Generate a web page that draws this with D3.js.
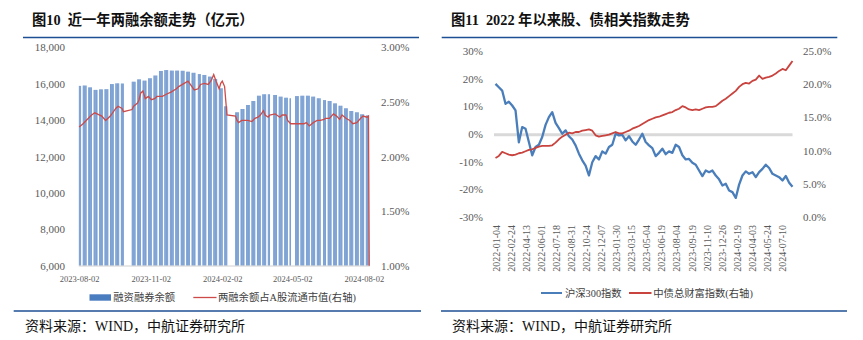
<!DOCTYPE html>
<html><head><meta charset="utf-8">
<script src="https://cdn.jsdelivr.net/npm/d3@7"></script>
<style>body{margin:0;background:#fff}svg{display:block}text{white-space:pre}</style>
</head><body>
<svg id="c" width="863" height="340"></svg>
<script>
// ---------------- Figure 10 data ----------------
const fig10Title = "图10  近一年两融余额走势（亿元）";
const fig10YTicks = [6000, 8000, 10000, 12000, 14000, 16000, 18000];
const fig10Y2Ticks = [1.0, 1.5, 2.0, 2.5, 3.0];
const fig10XTicks = ["2023-08-02", "2023-11-02", "2024-02-02", "2024-05-02", "2024-08-02"];
const fig10Legend = ["融资融券余额", "两融余额占A股流通市值(右轴)"];
const tradingFirstDay = "2023-08-02";
const tradingLastDay = "2024-08-08";
const marketHolidays = ["2023-09-29","2023-10-02","2023-10-03","2023-10-04","2023-10-05","2023-10-06",
  "2024-01-01","2024-02-09","2024-02-12","2024-02-13","2024-02-14","2024-02-15","2024-02-16",
  "2024-04-04","2024-04-05","2024-05-01","2024-05-02","2024-05-03","2024-06-10"];
// weekly margin balance (亿元), weeks starting Monday 2023-07-31
const marginWeekStart = "2023-07-31";
const marginWeekly = [15880,15900,15800,15660,15690,15700,15980,16020,16010,null,
  16110,16240,16170,16300,16450,16700,16750,16720,16720,16710,16660,16600,16530,16480,16390,16260,
  15750,14760,null,14430,14610,14830,15050,15340,15420,15420,15380,15290,15230,15200,15320,15340,
  15340,15290,15200,15100,15050,14920,14790,14650,14500,14430,14320,14260];
// ratio of margin balance to A-share float market cap (%)
const ratioDates = ["2023-08-02","2023-08-07","2023-08-11","2023-08-18","2023-08-22","2023-08-25","2023-08-31",
  "2023-09-05","2023-09-11","2023-09-18","2023-09-21","2023-09-26","2023-09-28",
  "2023-10-09","2023-10-11","2023-10-16","2023-10-18","2023-10-20","2023-10-23","2023-10-26","2023-10-30",
  "2023-11-03","2023-11-07","2023-11-10","2023-11-17","2023-11-22","2023-11-28",
  "2023-12-05","2023-12-08","2023-12-15","2023-12-20","2023-12-22","2023-12-28",
  "2024-01-02","2024-01-05","2024-01-10","2024-01-15","2024-01-19","2024-01-22","2024-01-25","2024-01-29","2024-01-31",
  "2024-02-02","2024-02-05","2024-02-08","2024-02-19","2024-02-21","2024-02-23","2024-02-27",
  "2024-03-01","2024-03-06","2024-03-11","2024-03-15","2024-03-19","2024-03-22","2024-03-26","2024-03-28",
  "2024-04-01","2024-04-03","2024-04-10","2024-04-12","2024-04-16","2024-04-19","2024-04-24","2024-04-26","2024-04-30",
  "2024-05-06","2024-05-09","2024-05-14","2024-05-17","2024-05-20","2024-05-24","2024-05-29",
  "2024-06-03","2024-06-07","2024-06-12","2024-06-14","2024-06-19","2024-06-24","2024-06-28",
  "2024-07-02","2024-07-05","2024-07-10","2024-07-15","2024-07-19","2024-07-24","2024-07-29",
  "2024-08-01","2024-08-06","2024-08-08","2024-08-09"];
const ratioValues = [2.27,2.30,2.33,2.38,2.40,2.39,2.37,
  2.33,2.37,2.44,2.46,2.44,2.41,
  2.43,2.46,2.49,2.52,2.58,2.60,2.53,2.55,
  2.52,2.53,2.55,2.55,2.57,2.59,
  2.62,2.64,2.67,2.69,2.67,2.61,
  2.62,2.66,2.67,2.66,2.70,2.75,2.69,2.62,2.67,
  2.69,2.64,2.38,2.37,2.33,2.31,2.33,
  2.33,2.33,2.32,2.35,2.36,2.38,2.42,2.38,
  2.36,2.38,2.39,2.38,2.36,2.38,2.38,2.33,2.30,
  2.30,2.30,2.30,2.30,2.31,2.28,2.31,
  2.33,2.33,2.34,2.35,2.35,2.39,2.37,
  2.34,2.38,2.35,2.33,2.30,2.31,2.35,
  2.37,2.36,2.37,1.00];

// ---------------- Figure 11 data ----------------
const fig11Title = "图11  2022 年以来股、债相关指数走势";
const fig11XLabels = ["2022-01-04","2022-02-24","2022-04-13","2022-06-01","2022-07-18","2022-08-31",
  "2022-10-24","2022-12-07","2023-01-30","2023-03-15","2023-05-04","2023-06-19","2023-08-04",
  "2023-09-19","2023-11-10","2023-12-26","2024-02-19","2024-04-03","2024-05-24","2024-07-10"];
const fig11LabelStep = 33;       // trading days between labels
const fig11TradingDays = 650;    // trading days covered by the series
const fig11YTicks = [-30, -20, -10, 0, 10, 20, 30];
const fig11Y2Ticks = [0, 5, 10, 15, 20, 25];
const fig11Legend = ["沪深300指数", "中债总财富指数(右轴)"];
// cumulative change (%), sampled evenly over the period
const hs300 = [18.1,16.9,15.7,10.9,11.7,10.3,8.5,-3.0,2.5,1.9,
  -2.9,-7.7,-4.7,-3.9,-1.1,3.3,6.1,7.9,4.0,2.1,
  0.1,1.3,-0.8,-2.0,-4.1,-7.1,-9.5,-11.4,-15.0,-10.2,
  -8.0,-9.2,-6.3,-7.1,-4.7,-3.9,0.1,-0.5,-0.3,-2.3,
  -0.8,-2.7,-3.9,-2.0,0.1,-2.9,-4.1,-5.1,-8.0,-6.8,
  -5.3,-7.3,-6.3,-6.8,-3.9,-4.7,-7.7,-9.2,-9.0,-10.4,
  -11.1,-13.2,-15.2,-13.2,-13.8,-13.2,-15.0,-16.4,-18.6,-18.0,
  -20.4,-21.0,-23.1,-18.3,-15.0,-13.5,-14.4,-13.8,-15.6,-13.8,
  -12.6,-11.1,-12.3,-14.4,-15.0,-15.6,-16.8,-15.2,-17.6,-19.1];
const chinaBondWealth = [8.9,9.2,9.8,9.6,9.4,9.3,9.4,9.6,9.7,9.9,
  10.1,10.2,10.4,10.6,10.7,10.7,10.7,10.8,11.2,11.7,
  12.1,12.4,12.7,12.6,12.8,12.8,13.0,13.1,13.2,13.0,
  12.3,12.1,12.2,12.3,12.4,12.6,12.8,12.6,12.6,12.8,
  13.0,13.3,13.5,13.7,14.0,14.3,14.6,14.8,15.0,15.1,
  15.3,15.5,15.7,15.8,16.1,16.3,16.7,16.5,16.2,16.1,
  16.2,16.1,16.3,16.5,16.6,16.6,16.7,17.1,17.5,17.8,
  18.2,18.6,19.0,19.6,20.0,20.2,20.1,20.5,20.7,21.3,
  20.8,21.0,21.1,21.3,21.6,22.0,22.3,22.1,22.8,23.5];
const sourceNote = "资料来源：WIND，中航证券研究所";

// ---------------- drawing ----------------
const svg = d3.select("#c");
const SERIF = "'Liberation Serif','Noto Sans CJK SC',serif";
const CJK = "'Liberation Serif','Noto Sans CJK SC',sans-serif";
const NAVY = "#1c4f94";
const AXTXT = "#595959";
const parse = d3.timeParse("%Y-%m-%d");
const fmtDay = d3.timeFormat("%Y-%m-%d");

function styleAxis(g, size) {
  g.select(".domain").remove();
  g.attr("font-family", SERIF).attr("font-size", size);
  g.selectAll("text").attr("fill", AXTXT);
}

// frame rules & titles
[[23, 419, 37.5], [441.7, 837.3, 37.5], [13.7, 421, 311], [441, 847, 311]].forEach(r => {
  svg.append("line").attr("x1", r[0]).attr("x2", r[1]).attr("y1", r[2]).attr("y2", r[2])
    .attr("stroke", NAVY).attr("stroke-width", 1.4);
});
[[fig10Title, 32], [fig11Title, 451]].forEach(t => {
  svg.append("text").attr("x", t[1]).attr("y", 20).attr("dominant-baseline", "central")
    .attr("font-family", CJK).attr("font-weight", "bold").attr("font-size", 14.3)
    .attr("fill", "#111").text(t[0]);
});
[25, 452].forEach(x => {
  svg.append("text").attr("x", x).attr("y", 326).attr("dominant-baseline", "central")
    .attr("font-family", CJK).attr("font-size", 14).attr("fill", "#111").text(sourceNote);
});

// ===== Figure 10 =====
const xL = d3.scaleTime().domain([parse(fig10XTicks[0]), parse(fig10XTicks[fig10XTicks.length - 1])]).range([79.2, 363.8]);
const yL = d3.scaleLinear().domain([fig10YTicks[0], fig10YTicks[fig10YTicks.length - 1]]).range([265.7, 47.3]);
const yR = d3.scaleLinear().domain([fig10Y2Ticks[0], fig10Y2Ticks[fig10Y2Ticks.length - 1]]).range([265.7, 47.3]);

const holidaySet = new Set(marketHolidays);
const wk0 = parse(marginWeekStart);
const tradingDays = d3.timeDay.range(parse(tradingFirstDay), d3.timeDay.offset(parse(tradingLastDay), 1))
  .filter(d => d.getDay() !== 0 && d.getDay() !== 6 && !holidaySet.has(fmtDay(d)));
const bars = tradingDays.map(d => ({ d, v: marginWeekly[Math.floor(d3.timeDay.count(wk0, d) / 7)] }))
  .filter(b => b.v != null);

svg.append("g").selectAll("rect").data(bars).join("rect")
  .attr("x", b => xL(b.d) - 0.31).attr("width", 0.62)
  .attr("y", b => yL(b.v)).attr("height", b => yL(fig10YTicks[0]) - yL(b.v))
  .attr("fill", "#4579c0");

svg.append("line").attr("x1", 78.8).attr("x2", 370).attr("y1", 266).attr("y2", 266)
  .attr("stroke", "#d0d0d0").attr("stroke-width", 1);

const ratio = ratioDates.map((s, i) => ({ d: parse(s), v: ratioValues[i] }));
svg.append("path").datum(ratio)
  .attr("d", d3.line().x(p => xL(p.d)).y(p => yR(p.v)))
  .attr("fill", "none").attr("stroke", "#cc4b48").attr("stroke-width", 1.3);

svg.append("g").attr("transform", "translate(65,0)")
  .call(d3.axisLeft(yL).tickValues(fig10YTicks).tickFormat(d3.format(",")).tickSize(0).tickPadding(0))
  .call(g => styleAxis(g, 11));
svg.append("g").attr("transform", "translate(381,0)")
  .call(d3.axisRight(yR).tickValues(fig10Y2Ticks).tickFormat(v => d3.format(".2f")(v) + "%").tickSize(0).tickPadding(0))
  .call(g => styleAxis(g, 11));
svg.append("g").attr("transform", "translate(0,266)")
  .call(d3.axisBottom(xL).tickValues(fig10XTicks.map(parse)).tickFormat(fmtDay).tickSize(0).tickPadding(10))
  .call(g => styleAxis(g, 8.5));

// legend fig10
svg.append("rect").attr("x", 89.5).attr("y", 294.3).attr("width", 21.5).attr("height", 6.4).attr("fill", "#4a7cc0");
svg.append("text").attr("x", 113.3).attr("y", 297.5).attr("dominant-baseline", "central")
  .attr("font-family", CJK).attr("font-size", 10.3).attr("fill", "#404040").text(fig10Legend[0]);
svg.append("line").attr("x1", 193.3).attr("x2", 216.5).attr("y1", 297.5).attr("y2", 297.5)
  .attr("stroke", "#cc4b48").attr("stroke-width", 1.3);
svg.append("text").attr("x", 218).attr("y", 297.5).attr("dominant-baseline", "central")
  .attr("font-family", CJK).attr("font-size", 10.3).attr("fill", "#404040").text(fig10Legend[1]);

// ===== Figure 11 =====
const xI = d3.scaleLinear().domain([0, fig11TradingDays]).range([495.5, 792.5]);
const yA = d3.scaleLinear().domain([fig11YTicks[0], fig11YTicks[fig11YTicks.length - 1]]).range([217, 51]);
const yB = d3.scaleLinear().domain([fig11Y2Ticks[0], fig11Y2Ticks[fig11Y2Ticks.length - 1]]).range([217, 51]);

svg.append("line").attr("x1", xI(0) - 1.5).attr("x2", xI(fig11TradingDays)).attr("y1", yA(0) + 0.8).attr("y2", yA(0) + 0.8)
  .attr("stroke", "#d9d9d9").attr("stroke-width", 3);

const lineA = d3.line().x((v, i, arr) => xI(i * fig11TradingDays / (arr.length - 1))).y(v => yA(v));
const lineB = d3.line().x((v, i, arr) => xI(i * fig11TradingDays / (arr.length - 1))).y(v => yB(v));
svg.append("path").datum(hs300).attr("d", lineA).attr("fill", "none")
  .attr("stroke", "#4a7ebb").attr("stroke-width", 2.3).attr("stroke-linejoin", "round");
svg.append("path").datum(chinaBondWealth).attr("d", lineB).attr("fill", "none")
  .attr("stroke", "#c9433f").attr("stroke-width", 1.8).attr("stroke-linejoin", "round");

svg.append("g").attr("transform", "translate(483,0)")
  .call(d3.axisLeft(yA).tickValues(fig11YTicks).tickFormat(v => v + "%").tickSize(0).tickPadding(0))
  .call(g => styleAxis(g, 11));
svg.append("g").attr("transform", "translate(803,0)")
  .call(d3.axisRight(yB).tickValues(fig11Y2Ticks).tickFormat(v => d3.format(".1f")(v) + "%").tickSize(0).tickPadding(0))
  .call(g => styleAxis(g, 11));
svg.append("g").attr("transform", "translate(0,225)")
  .call(d3.axisBottom(xI).tickValues(fig11XLabels.map((s, i) => i * fig11LabelStep))
    .tickFormat(v => fig11XLabels[Math.round(v / fig11LabelStep)]).tickSize(0))
  .call(g => {
    styleAxis(g, 10);
    g.selectAll("text").attr("x", 0).attr("y", 0).attr("dy", "0.35em")
      .attr("transform", "rotate(-90)").attr("text-anchor", "end");
  });

// legend fig11
svg.append("line").attr("x1", 541).attr("x2", 562).attr("y1", 293).attr("y2", 293)
  .attr("stroke", "#4a7ebb").attr("stroke-width", 2);
svg.append("text").attr("x", 565).attr("y", 293).attr("dominant-baseline", "central")
  .attr("font-family", CJK).attr("font-size", 10.3).attr("fill", "#404040").text(fig11Legend[0]);
svg.append("line").attr("x1", 629).attr("x2", 651.5).attr("y1", 293).attr("y2", 293)
  .attr("stroke", "#c9433f").attr("stroke-width", 2);
svg.append("text").attr("x", 653.3).attr("y", 293).attr("dominant-baseline", "central")
  .attr("font-family", CJK).attr("font-size", 10.3).attr("fill", "#404040").text(fig11Legend[1]);
</script>
</body></html>
